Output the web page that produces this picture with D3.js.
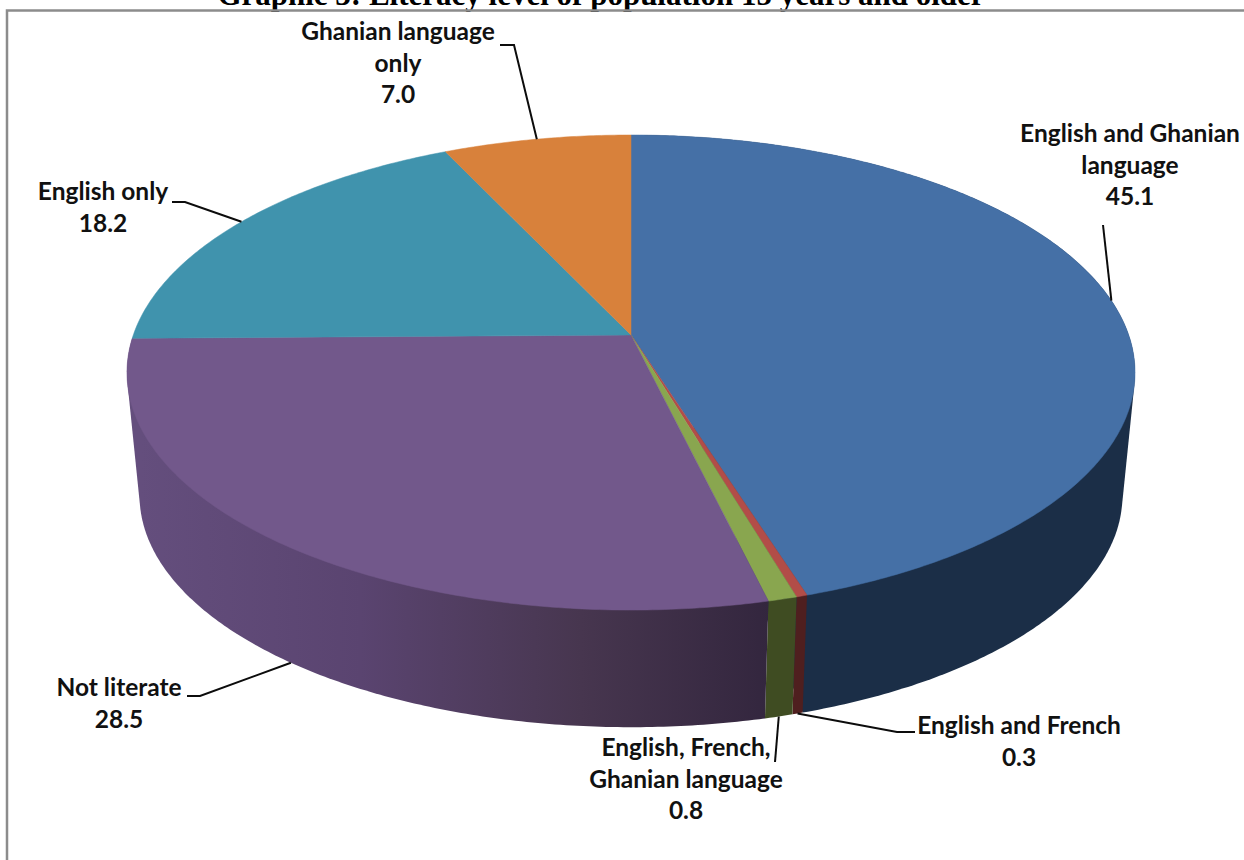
<!DOCTYPE html>
<html>
<head>
<meta charset="utf-8">
<title>Literacy level</title>
<script src="https://cdn.jsdelivr.net/npm/d3@7"></script>
<style>
  html, body { margin: 0; padding: 0; background: #fff; }
  svg { display: block; }
  .label { font-family: Lato, sans-serif; font-weight: 700; font-size: 24.5px; fill: #111; text-anchor: middle; }
  .title { font-family: "Liberation Serif", serif; font-weight: 700; font-size: 31px; fill: #000; text-anchor: middle; }
</style>
</head>
<body>
<div id="chart"></div>
<script>
const titleText = 'Graphic 3: Literacy level of population 15 years and older'

const categories = ['English and Ghanian language', 'English and French', 'English, French, Ghanian language', 'Not literate', 'English only', 'Ghanian language only']
const values = [45.1, 0.3, 0.8, 28.5, 18.2, 7.0]
const valueLabels = ['45.1', '0.3', '0.8', '28.5', '18.2', '7.0']

const topColors = ['#4570a6', '#b24d48', '#89a64f', '#72588b', '#4093ad', '#d8813b']
const sideColors = ['#1b2e47', '#4f1f1f', '#3f4c22', 'url(#purpleSide)', '#2a6070', '#8f5423']

// label lines, centre x, first baseline, leader bend points
const labelLines = [
  ['English and Ghanian', 'language', '45.1'],
  ['English and French', '0.3'],
  ['English, French,', 'Ghanian language', '0.8'],
  ['Not literate', '28.5'],
  ['English only', '18.2'],
  ['Ghanian language', 'only', '7.0']
]
const labelPos = [[1130, 142], [1019, 734], [686, 756], [119, 696], [103, 200], [398, 40]]
const leaderBends = [
  [[1103, 225]],
  [[915, 732], [897, 732]],
  [[775, 762]],
  [[187, 696], [200, 696]],
  [[172, 202], [185, 202]],
  [[500, 45], [514, 45]]
]
const leaderOnBase = [false, true, true, true, false, false]

const width = 1244, height = 860
const cx = 631, topY = 335, baseY = 459
const persp = 0.158, rx = 497.7, ry = 231.6, baseScale = 0.975

// perspective projection of the round pie on its top or bottom plane
const project = (angle, base) => {
  let X = Math.sin(angle), Y = Math.cos(angle)
  let w = 1 + persp * Y
  let s = base ? baseScale : 1
  return [cx + s * rx * X / w, (base ? baseY : topY) - s * ry * Y / w]
}

const arcPoints = (a0, a1, base) => {
  let n = Math.max(2, Math.ceil((a1 - a0) / 0.01))
  return d3.range(n + 1).map(i => project(a0 + (a1 - a0) * i / n, base))
}

const line = d3.line().curve(d3.curveLinear)

const slices = d3.pie().sort(null).value(d => d)(values)

const svg = d3.select('#chart').append('svg')
  .attr('width', width)
  .attr('height', height)

const grad = svg.append('defs').append('linearGradient')
  .attr('id', 'purpleSide')
  .attr('gradientUnits', 'userSpaceOnUse')
  .attr('x1', 140).attr('x2', 770).attr('y1', 0).attr('y2', 0)
grad.append('stop').attr('offset', 0).attr('stop-color', '#644e7d')
grad.append('stop').attr('offset', 0.35).attr('stop-color', '#5a4470')
grad.append('stop').attr('offset', 0.7).attr('stop-color', '#47364f')
grad.append('stop').attr('offset', 1).attr('stop-color', '#33263e')

svg.append('text')
  .attr('class', 'title')
  .attr('x', 601)
  .attr('y', 4.5)
  .text(titleText)

svg.append('path')
  .attr('d', `M7,${height}V10.5H${width}`)
  .attr('fill', 'none')
  .attr('stroke', '#8c8c8c')
  .attr('stroke-width', 2.5)

// outer wall, only the front slices can be seen
svg.append('g').selectAll('path')
  .data(slices.filter(d => d.endAngle < 4.8))
  .enter()
  .append('path')
  .attr('fill', d => sideColors[d.index])
  .attr('d', d => {
    let top = arcPoints(d.startAngle, d.endAngle, false)
    let bottom = arcPoints(d.startAngle, d.endAngle, true)
    return line(d3.polygonHull(top.concat(bottom))) + 'Z'
  })

svg.append('g').selectAll('path')
  .data(slices)
  .enter()
  .append('path')
  .attr('fill', (d, i) => topColors[i])
  .attr('stroke', (d, i) => topColors[i])
  .attr('stroke-width', 0.5)
  .attr('d', d => line([[cx, topY]].concat(arcPoints(d.startAngle, d.endAngle, false))) + 'Z')

svg.append('g').selectAll('path')
  .data(slices)
  .enter()
  .append('path')
  .attr('fill', 'none')
  .attr('stroke', '#0c0c0c')
  .attr('stroke-width', 2)
  .attr('d', (d, i) => {
    let rim = project((d.startAngle + d.endAngle) / 2, leaderOnBase[i])
    return line(leaderBends[i].concat([rim]))
  })

const labels = svg.append('g').selectAll('text')
  .data(labelLines)
  .enter()
  .append('text')
  .attr('class', 'label')
  .attr('aria-label', (d, i) => categories[i] + ' ' + valueLabels[i])
  .attr('x', (d, i) => labelPos[i][0])
  .attr('y', (d, i) => labelPos[i][1])

labels.selectAll('tspan')
  .data((d, i) => d.map(t => ({ t, x: labelPos[i][0] })))
  .enter()
  .append('tspan')
  .attr('x', d => d.x)
  .attr('dy', (d, i) => i ? 31.5 : 0)
  .text(d => d.t)
</script>
</body>
</html>
